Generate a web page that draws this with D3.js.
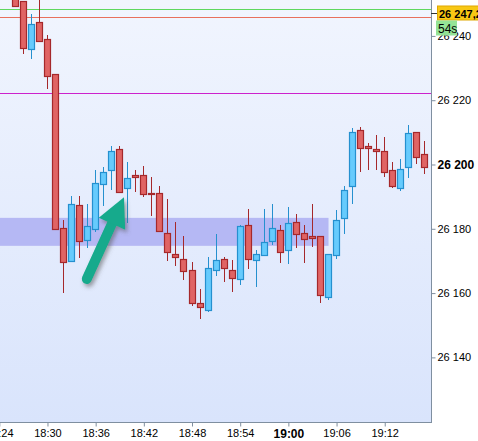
<!DOCTYPE html>
<html><head><meta charset="utf-8">
<script src="https://cdn.jsdelivr.net/npm/d3@7"></script>
<style>html,body{margin:0;padding:0;background:#fff;}svg{display:block;font-family:"Liberation Sans",Arial,sans-serif;}</style>
</head><body>
<svg id="c" width="478" height="441"></svg>
<script>
// ---- data ----
const times = ["18:26","18:27","18:28","18:29","18:30","18:31","18:32","18:33","18:34","18:35","18:36","18:37","18:38","18:39","18:40","18:41","18:42","18:43","18:44","18:45","18:46","18:47","18:48","18:49","18:50","18:51","18:52","18:53","18:54","18:55","18:56","18:57","18:58","18:59","19:00","19:01","19:02","19:03","19:04","19:05","19:06","19:07","19:08","19:09","19:10","19:11","19:12","19:13","19:14","19:15","19:16","19:17"];
const open  = [26262,26251,26236.0,26244.2,26238.9,26228.1,26180.2,26170.1,26187.3,26176.6,26180.0,26193.8,26198.2,26204.8,26192.6,26196.6,26196.6,26191.0,26191.0,26178.6,26172.1,26170.5,26167.1,26156.8,26154.6,26167.1,26170.5,26167.1,26164.3,26181.1,26170.2,26171.8,26176.1,26179.5,26173.3,26182.0,26178.6,26177.7,26177.7,26158.7,26171.8,26183.3,26193.2,26210.6,26205.7,26204.7,26204.1,26198.2,26192.6,26199.1,26210.0,26203.2];
const high  = [26264,26251,26246.8,26254,26240.3,26228.1,26182.7,26190.2,26190.2,26187.7,26198.3,26199.3,26205.8,26205.8,26200.8,26198.3,26199.5,26196.0,26193.3,26189.3,26182.1,26177.8,26169.6,26161.3,26171.2,26178.4,26171.2,26170.3,26181.2,26186.2,26173.4,26186.2,26187.7,26181.2,26186.8,26184.6,26181.1,26187.6,26177.7,26172.1,26185.8,26193.2,26211.3,26211.7,26206.7,26209.1,26208.6,26200.7,26201.6,26212.2,26210.0,26207.2];
const low   = [26249.2,26234.5,26232.8,26238.5,26223.5,26179.6,26160.1,26169.7,26171.0,26174.1,26179.1,26187.2,26192.2,26191.2,26181.9,26191.5,26190.0,26184.1,26179.0,26170.1,26168.5,26164.2,26156.1,26152.0,26154.2,26165.4,26163.5,26160.4,26162.6,26167.6,26162.0,26171.8,26175.1,26169.5,26169.1,26174.1,26169.5,26174.2,26156.8,26157.8,26170.5,26178.3,26187.6,26197.6,26198.2,26198.2,26196.0,26192.6,26191.7,26195.7,26200.1,26197.0];
const close = [26249.4,26236.3,26243.7,26238.5,26227.6,26179.8,26169.8,26187.6,26176.1,26180.8,26194.2,26197.6,26204.1,26191.5,26195.7,26196.0,26190.7,26190.7,26179.2,26172.7,26171.1,26166.8,26156.8,26155.6,26167.7,26170.2,26167.7,26164.6,26180.8,26170.5,26172.1,26175.8,26180.2,26172.7,26181.7,26178.3,26176.7,26177.0,26159.3,26172.1,26182.6,26192.0,26210.0,26205.0,26205.0,26204.1,26197.6,26193.2,26198.5,26209.7,26202.2,26199.1];
const yTicks = [26140,26160,26180,26200,26220,26240];
const xTicks = ["18:24","18:30","18:36","18:42","18:48","18:54","19:00","19:06","19:12"];
const levelValues = [26248.4, 26245.9, 26222.2];
const zoneRange = [26174.7, 26183.4];      // price band
const zoneTimes = ["18:10", "19:05"];
const lastPrice = "26 247,2";
const lastPriceValue = 26247.2;
const timerText = "54s";
const arrowFrom = ["18:34.9", 26164.4];
const arrowTo = ["18:39.53", 26189.8];

// ---- helpers ----
function t(s){ const [h,m] = s.split(":"); const mm = parseFloat(m); const d = new Date(2024,0,1,+h,Math.floor(mm),0); d.setTime(d.getTime() + (mm-Math.floor(mm))*60000); return d; }
const W = 431, H = 422;
const x = d3.scaleTime().domain([t("18:24"), t("19:17.75")]).range([-0.7, 430.9]);
const y = d3.scaleLinear().domain([26119.9, 26251.17]).range([H, 0]);
const fmtNum = v => { const s = String(v); return s.slice(0,2) + " " + s.slice(2); };

const svg = d3.select("#c");
const defs = svg.append("defs");
const grad = defs.append("linearGradient").attr("id","bg").attr("x1",0).attr("y1",0).attr("x2",0).attr("y2",1);
grad.append("stop").attr("offset","0%").attr("stop-color","#f1f5fe");
grad.append("stop").attr("offset","100%").attr("stop-color","#d9e4fc");
defs.append("clipPath").attr("id","plot").append("rect").attr("x",0).attr("y",0).attr("width",W).attr("height",H);
const f = defs.append("filter").attr("id","sh").attr("x","-50%").attr("y","-50%").attr("width","200%").attr("height","200%");
f.append("feDropShadow").attr("dx",2).attr("dy",3).attr("stdDeviation",2).attr("flood-color","#555").attr("flood-opacity",0.55);

svg.append("rect").attr("x",0).attr("y",0).attr("width",W).attr("height",H).attr("fill","url(#bg)");

const g = svg.append("g").attr("clip-path","url(#plot)");

// zone
g.append("rect")
  .attr("x", x(t(zoneTimes[0]))).attr("width", x(t(zoneTimes[1])) - x(t(zoneTimes[0])))
  .attr("y", y(zoneRange[1])).attr("height", y(zoneRange[0]) - y(zoneRange[1]))
  .attr("fill","#b5b8f4");

// level lines (drawn as 1px filled strips)
const levelColors = ["#5fd85f","#e8705c","#cc22cc"];
g.selectAll("rect.lvl").data(levelValues).enter().append("rect")
  .attr("class","lvl")
  .attr("x",0).attr("width",W)
  .attr("y",d=>Math.round(y(d))).attr("height",1)
  .attr("fill",(d,i)=>levelColors[i]);

// candles
const candles = times.map((s,i)=>({t:t(s),o:open[i],h:high[i],l:low[i],c:close[i]}));
const cg = g.selectAll("g.cdl").data(candles).enter().append("g").attr("class","cdl");
const cx = d => Math.floor(x(d.t)) + 0.5;
const up = d => d.c >= d.o;
cg.append("line")
  .attr("x1",cx).attr("x2",cx)
  .attr("y1",d=>Math.round(y(d.h))).attr("y2",d=>Math.round(y(d.l)))
  .attr("stroke",d=>up(d)?"#2590cf":"#a5282b").attr("stroke-width",1);
cg.append("rect")
  .attr("x",d=>cx(d)-3).attr("width",6)
  .attr("y",d=>Math.round(y(Math.max(d.o,d.c)))+0.5)
  .attr("height",d=>Math.max(1, Math.round(y(Math.min(d.o,d.c))) - Math.round(y(Math.max(d.o,d.c)))))
  .attr("fill",d=>up(d)?"#66cbfd":"#e06464")
  .attr("stroke",d=>up(d)?"#2590cf":"#a5282b").attr("stroke-width",1.2);

// arrow
const ax0 = x(t(arrowFrom[0])), ay0 = y(arrowFrom[1]);
const ax1 = x(t(arrowTo[0])), ay1 = y(arrowTo[1]);
const dx = ax1-ax0, dy = ay1-ay0, len = Math.hypot(dx,dy), ux = dx/len, uy = dy/len, nx = -uy, ny = ux;
const headL = 29, headW = 14.5;
const bx = ax1 - ux*headL, by = ay1 - uy*headL;
const ag = svg.append("g").attr("filter","url(#sh)");
ag.append("line").attr("x1",ax0).attr("y1",ay0).attr("x2",bx+ux*4).attr("y2",by+uy*4)
  .attr("stroke","#13aa8c").attr("stroke-width",10).attr("stroke-linecap","round");
ag.append("path").attr("d",`M${ax1},${ay1}L${bx+nx*headW},${by+ny*headW}L${bx-nx*headW},${by-ny*headW}Z`)
  .attr("fill","#13aa8c");

// axes
const axisColor = "#7f8fa0";
svg.append("line").attr("x1",W+0.5).attr("x2",W+0.5).attr("y1",0).attr("y2",H+1).attr("stroke",axisColor);
svg.append("line").attr("x1",0).attr("x2",W+1).attr("y1",H+0.5).attr("y2",H+0.5).attr("stroke",axisColor);

const yAxis = d3.axisRight(y).tickValues(yTicks).tickSize(4).tickPadding(2).tickFormat(fmtNum);
const ya = svg.append("g").attr("transform",`translate(${W+0.5},0)`).call(yAxis);
ya.select(".domain").remove();
ya.selectAll(".tick line").attr("stroke",axisColor);
ya.selectAll(".tick text").attr("fill","#000").attr("font-family","'Liberation Sans',Arial,sans-serif")
  .attr("font-size",d=>d===26200?12:11).attr("font-weight",d=>d===26200?"bold":"normal");

const xAxis = d3.axisBottom(x).tickValues(xTicks.map(t)).tickSize(4).tickPadding(3).tickFormat(d3.timeFormat("%H:%M"));
const xa = svg.append("g").attr("transform",`translate(0,${H+0.5})`).call(xAxis);
xa.select(".domain").remove();
xa.selectAll(".tick line").attr("stroke",axisColor);
xa.selectAll(".tick text").attr("fill","#000").attr("font-family","'Liberation Sans',Arial,sans-serif")
  .attr("font-size",d=>d3.timeFormat("%H:%M")(d)==="19:00"?12:11)
  .attr("font-weight",d=>d3.timeFormat("%H:%M")(d)==="19:00"?"bold":"normal");

// last price label
const py = Math.round(y(lastPriceValue))+0.5;
svg.append("line").attr("x1",W).attr("x2",W+6).attr("y1",py).attr("y2",py).attr("stroke","#333");
svg.append("rect").attr("x",437.5).attr("y",py-7.5).attr("width",44).attr("height",14)
  .attr("fill","#f8c814").attr("stroke","#e0a800");
svg.append("text").attr("x",439).attr("y",py+4.5).attr("font-size",11).attr("font-weight","bold")
  .attr("fill","#000").text(lastPrice);
svg.append("rect").attr("x",436).attr("y",py+7).attr("width",21).attr("height",15)
  .attr("fill","#92e394").attr("opacity",0.97);
svg.append("text").attr("x",438).attr("y",py+19).attr("font-size",12).attr("fill","#000").text(timerText);
</script>
</body></html>
